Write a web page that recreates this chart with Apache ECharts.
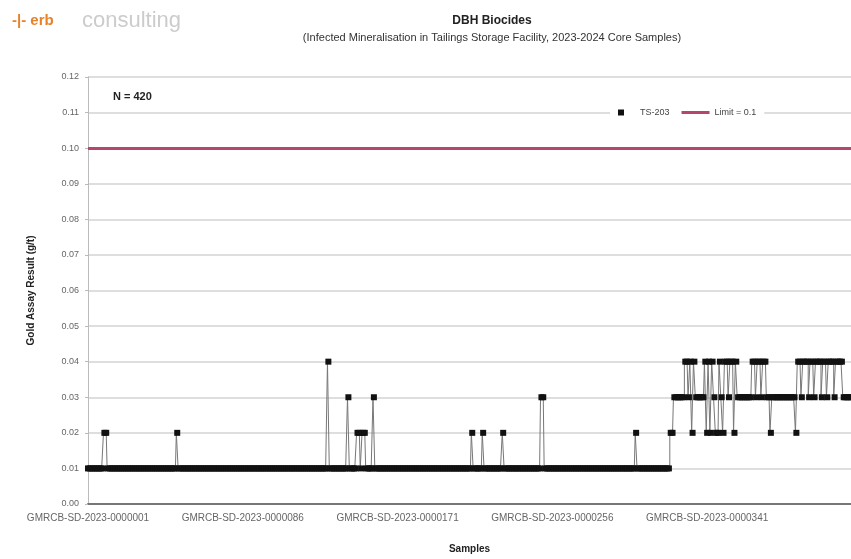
<!DOCTYPE html>
<html style="height: 100%">

<head>
    <meta charset="utf-8">
    <script src="https://cdn.jsdelivr.net/npm/echarts@6/dist/echarts.min.js"></script>
</head>

<body style="height: 100%; margin: 0; background: #fff">
    <div id="chart" style="width: 851px; height: 559px"></div>
    <script type="text/javascript">
        // sample ids (running number)
        var samplePrefix = 'GMRCB-SD-2023-';
        var sampleCount = 420;
        var samples = [];
        for (var i = 1; i <= sampleCount; i++) {
            samples.push(samplePrefix + ('000000' + i).slice(-7));
        }

        // readings, sample 1 .. 420, in groups of 20
        var results = [
            0.01, 0.01, 0.01, 0.01, 0.01, 0.01, 0.01, 0.01, 0.01, 0.02, 0.02, 0.01, 0.01, 0.01, 0.01, 0.01, 0.01, 0.01, 0.01, 0.01,
            0.01, 0.01, 0.01, 0.01, 0.01, 0.01, 0.01, 0.01, 0.01, 0.01, 0.01, 0.01, 0.01, 0.01, 0.01, 0.01, 0.01, 0.01, 0.01, 0.01,
            0.01, 0.01, 0.01, 0.01, 0.01, 0.01, 0.01, 0.01, 0.01, 0.02, 0.01, 0.01, 0.01, 0.01, 0.01, 0.01, 0.01, 0.01, 0.01, 0.01,
            0.01, 0.01, 0.01, 0.01, 0.01, 0.01, 0.01, 0.01, 0.01, 0.01, 0.01, 0.01, 0.01, 0.01, 0.01, 0.01, 0.01, 0.01, 0.01, 0.01,
            0.01, 0.01, 0.01, 0.01, 0.01, 0.01, 0.01, 0.01, 0.01, 0.01, 0.01, 0.01, 0.01, 0.01, 0.01, 0.01, 0.01, 0.01, 0.01, 0.01,
            0.01, 0.01, 0.01, 0.01, 0.01, 0.01, 0.01, 0.01, 0.01, 0.01, 0.01, 0.01, 0.01, 0.01, 0.01, 0.01, 0.01, 0.01, 0.01, 0.01,
            0.01, 0.01, 0.01, 0.01, 0.01, 0.01, 0.01, 0.01, 0.01, 0.01, 0.01, 0.01, 0.04, 0.01, 0.01, 0.01, 0.01, 0.01, 0.01, 0.01,
            0.01, 0.01, 0.01, 0.03, 0.01, 0.01, 0.01, 0.01, 0.02, 0.02, 0.01, 0.02, 0.02, 0.01, 0.01, 0.01, 0.01, 0.03, 0.01, 0.01,
            0.01, 0.01, 0.01, 0.01, 0.01, 0.01, 0.01, 0.01, 0.01, 0.01, 0.01, 0.01, 0.01, 0.01, 0.01, 0.01, 0.01, 0.01, 0.01, 0.01,
            0.01, 0.01, 0.01, 0.01, 0.01, 0.01, 0.01, 0.01, 0.01, 0.01, 0.01, 0.01, 0.01, 0.01, 0.01, 0.01, 0.01, 0.01, 0.01, 0.01,
            0.01, 0.01, 0.01, 0.01, 0.01, 0.01, 0.01, 0.01, 0.01, 0.01, 0.01, 0.02, 0.01, 0.01, 0.01, 0.01, 0.01, 0.02, 0.01, 0.01,
            0.01, 0.01, 0.01, 0.01, 0.01, 0.01, 0.01, 0.01, 0.02, 0.01, 0.01, 0.01, 0.01, 0.01, 0.01, 0.01, 0.01, 0.01, 0.01, 0.01,
            0.01, 0.01, 0.01, 0.01, 0.01, 0.01, 0.01, 0.01, 0.01, 0.03, 0.03, 0.01, 0.01, 0.01, 0.01, 0.01, 0.01, 0.01, 0.01, 0.01,
            0.01, 0.01, 0.01, 0.01, 0.01, 0.01, 0.01, 0.01, 0.01, 0.01, 0.01, 0.01, 0.01, 0.01, 0.01, 0.01, 0.01, 0.01, 0.01, 0.01,
            0.01, 0.01, 0.01, 0.01, 0.01, 0.01, 0.01, 0.01, 0.01, 0.01, 0.01, 0.01, 0.01, 0.01, 0.01, 0.01, 0.01, 0.01, 0.01, 0.01,
            0.01, 0.02, 0.01, 0.01, 0.01, 0.01, 0.01, 0.01, 0.01, 0.01, 0.01, 0.01, 0.01, 0.01, 0.01, 0.01, 0.01, 0.01, 0.01, 0.01,
            0.02, 0.02, 0.03, 0.03, 0.03, 0.03, 0.03, 0.03, 0.04, 0.04, 0.03, 0.04, 0.02, 0.04, 0.03, 0.03, 0.03, 0.03, 0.03, 0.04,
            0.02, 0.04, 0.02, 0.04, 0.03, 0.02, 0.02, 0.04, 0.03, 0.02, 0.04, 0.04, 0.03, 0.04, 0.04, 0.02, 0.04, 0.03, 0.03, 0.03,
            0.03, 0.03, 0.03, 0.03, 0.03, 0.04, 0.04, 0.03, 0.04, 0.04, 0.03, 0.04, 0.04, 0.03, 0.03, 0.02, 0.03, 0.03, 0.03, 0.03,
            0.03, 0.03, 0.03, 0.03, 0.03, 0.03, 0.03, 0.03, 0.03, 0.02, 0.04, 0.04, 0.03, 0.04, 0.04, 0.04, 0.03, 0.04, 0.04, 0.03,
            0.04, 0.04, 0.04, 0.03, 0.04, 0.04, 0.03, 0.04, 0.04, 0.04, 0.03, 0.04, 0.04, 0.04, 0.04, 0.03, 0.03, 0.03, 0.03, 0.03
        ];

        var limitValue = 0.10;
        var seriesName = 'TS-203';
        var limitName = 'Limit = 0.1';
        var chartTitle = 'DBH Biocides';
        var chartSubtitle = '(Infected Mineralisation in Tailings Storage Facility, 2023-2024 Core Samples)';
        var yName = 'Gold Assay Result (g/t)';
        var xName = 'Samples';

        var font = 'Liberation Sans';
        var myChart = echarts.init(document.getElementById('chart'));
        myChart.setOption({
            animation: false,
            backgroundColor: '#fff',
            title: {
                text: chartTitle,
                subtext: chartSubtitle,
                left: 487,
                textAlign: 'center',
                top: 10,
                itemGap: 5,
                textStyle: { fontFamily: font, fontSize: 12, fontWeight: 'bold', color: '#222' },
                subtextStyle: { fontFamily: font, fontSize: 11, color: '#333' }
            },
            legend: {
                left: 610,
                top: 106,
                backgroundColor: '#fff',
                padding: [2, 8],
                itemWidth: 28,
                itemHeight: 6,
                itemGap: 12,
                textStyle: { fontFamily: font, fontSize: 9, color: '#444' },
                data: [
                    { name: seriesName, icon: 'path://M0,0H6V6H0Z' },
                    { name: limitName, icon: 'path://M0,0H28V3H0Z' }
                ]
            },
            grid: { left: 88, right: 0, top: 77, bottom: 55 },
            graphic: [
                {
                    type: 'text', left: 12, top: 13,
                    style: { text: '-|- erb', fill: '#e8822a', font: 'bold 15px "Liberation Sans"' }
                },
                {
                    type: 'text', left: 82, top: 10,
                    style: { text: 'consulting', fill: '#cccccc', font: '22px "Liberation Sans"' }
                },
                {
                    type: 'text', left: 113, top: 91,
                    style: { text: 'N = 420', fill: '#222', font: 'bold 11px "Liberation Sans"' }
                }
            ],
            xAxis: {
                type: 'category',
                data: samples,
                boundaryGap: false,
                name: xName,
                nameLocation: 'middle',
                nameGap: 40,
                nameTextStyle: { fontFamily: font, fontSize: 10, fontWeight: 'bold', color: '#222' },
                axisLine: { lineStyle: { color: '#777', width: 2 } },
                axisTick: { show: false },
                axisLabel: { interval: 84, fontFamily: font, fontSize: 10, color: '#666', margin: 9 },
                splitLine: { show: false }
            },
            yAxis: {
                type: 'value',
                min: 0,
                max: 0.12,
                interval: 0.01,
                name: yName,
                nameLocation: 'middle',
                nameGap: 52,
                nameTextStyle: { fontFamily: font, fontSize: 10, fontWeight: 'bold', color: '#222' },
                axisLine: { show: true, lineStyle: { color: '#bbb' } },
                axisTick: { show: true, length: 3, lineStyle: { color: '#bbb' } },
                axisLabel: {
                    fontFamily: font, fontSize: 9, color: '#666', margin: 9,
                    formatter: function (v) { return v.toFixed(2); }
                },
                splitLine: { lineStyle: { color: '#d3d3d3', width: 1.5 } }
            },
            series: [
                {
                    name: seriesName,
                    type: 'line',
                    data: results,
                    step: 'middle',
                    showAllSymbol: true,
                    symbol: 'rect',
                    symbolSize: 6,
                    itemStyle: { color: '#111' },
                    lineStyle: { color: '#777', width: 1 },
                    z: 3
                },
                {
                    name: limitName,
                    type: 'line',
                    data: [],
                    itemStyle: { color: '#b4476a' },
                    lineStyle: { color: '#b4476a', width: 3 },
                    markLine: {
                        silent: true,
                        symbol: 'none',
                        label: { show: false },
                        lineStyle: { color: '#b4476a', width: 3, type: 'solid' },
                        data: [{ yAxis: limitValue }]
                    }
                }
            ]
        });
    </script>
</body>

</html>
